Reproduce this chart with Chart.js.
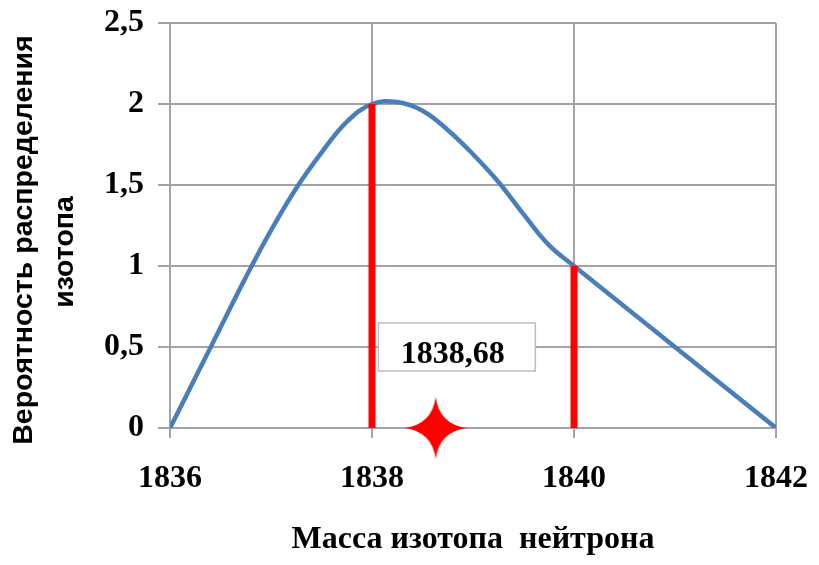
<!DOCTYPE html>
<html>
<head>
<meta charset="utf-8">
<script src="https://cdn.jsdelivr.net/npm/chart.js@4.4.1/dist/chart.umd.min.js"></script>
<style>
  html, body { margin: 0; padding: 0; background: #fff; }
  #wrap { width: 819px; height: 565px; position: relative; }
</style>
</head>
<body>
<div id="wrap"><canvas id="isoChart"></canvas></div>
<script>
// probability curve, every quarter unit
const masses = [1836, 1836.25, 1836.5, 1836.75, 1837, 1837.25, 1837.5, 1837.75, 1838,
                1838.25, 1838.5, 1838.75, 1839, 1839.25, 1839.5, 1839.75, 1840, 1842];
const probs  = [0,    0.31,    0.62,   0.93,    1.22, 1.48,    1.70,   1.89,    2.0,
                2.012,   1.958,  1.84,    1.69, 1.52,    1.32,   1.13,    1,    0];

// red bars at the two isotopes
const markMass = [1838, 1840];
const markProb = [2, 1];

// mean mass: star on the axis + boxed label
const meanMass = [1838.63];
const meanProb = [0];
const meanText = '1838,68';
const notePos = [1838.84, 0.5];

// tick labels and axis titles
const xTicks = [1836, 1838, 1840, 1842];
const yTicks = [0, 0.5, 1, 1.5, 2, 2.5];
const xTitle = 'Масса изотопа  нейтрона';
const yTitle = ['Вероятность распределения', 'изотопа'];

const gridGray = '#a3a3a3';
const serifBold = { family: '"Liberation Serif", "Times New Roman", serif', size: 32, weight: 'bold' };

// 4-point star used as point style
function makeStar(size, color) {
  const c = document.createElement('canvas');
  c.width = size; c.height = size;
  const g = c.getContext('2d');
  const m = size / 2, k = size * 0.06;
  g.fillStyle = color;
  g.beginPath();
  g.moveTo(m, 0);
  g.quadraticCurveTo(m + k, m - k, size, m);
  g.quadraticCurveTo(m + k, m + k, m, size);
  g.quadraticCurveTo(m - k, m + k, 0, m);
  g.quadraticCurveTo(m - k, m - k, m, 0);
  g.fill();
  return c;
}

// boxed value label
const notePlugin = {
  id: 'note',
  afterDatasetsDraw(chart) {
    const { ctx, scales: { x, y } } = chart;
    const cx = x.getPixelForValue(notePos[0]);
    const cy = y.getPixelForValue(notePos[1]);
    const w = 157, h = 48;
    ctx.save();
    ctx.fillStyle = '#fff';
    ctx.strokeStyle = '#bdbdbd';
    ctx.lineWidth = 1.5;
    ctx.fillRect(cx - w / 2, cy - h / 2, w, h);
    ctx.strokeRect(cx - w / 2, cy - h / 2, w, h);
    ctx.fillStyle = '#000';
    ctx.font = 'bold 32px "Liberation Serif"';
    ctx.textAlign = 'center';
    ctx.textBaseline = 'alphabetic';
    ctx.fillText(meanText, cx - 4, cy + 16);
    ctx.restore();
  }
};

// rotated two-line y title (sits a bit below the plot centre, as in the original)
const yTitlePlugin = {
  id: 'yTitle',
  afterDraw(chart) {
    const ctx = chart.ctx;
    ctx.save();
    ctx.fillStyle = '#000';
    ctx.font = 'bold 28.5px "Liberation Sans"';
    ctx.textAlign = 'center';
    ctx.textBaseline = 'alphabetic';
    ctx.translate(31.5, 240);
    ctx.rotate(-Math.PI / 2);
    ctx.fillText(yTitle[0], 0, 0);
    ctx.fillText(yTitle[1], -12, 41);
    ctx.restore();
  }
};

const redBars = markMass.map((m, i) => ({
  data: [{ x: m, y: 0 }, { x: m, y: markProb[i] }],
  showLine: true,
  borderColor: '#ff0000',
  borderWidth: 7,
  pointRadius: 0,
  borderCapStyle: 'butt',
  order: 0
}));

new Chart(document.getElementById('isoChart'), {
  type: 'scatter',
  data: {
    datasets: [
      {
        data: masses.map((m, i) => ({ x: m, y: probs[i] })),
        showLine: true,
        borderColor: '#4a7ebb',
        borderWidth: 4.5,
        tension: 0.4,
        pointRadius: 0,
        order: 1
      },
      ...redBars,
      {
        // image point: drawn at its own size, small radius keeps layout padding untouched
        data: meanMass.map((m, i) => ({ x: m, y: meanProb[i] })),
        pointStyle: makeStar(62, '#ff0000'),
        pointRadius: 1,
        clip: false,
        order: 0
      }
    ]
  },
  options: {
    responsive: true,
    maintainAspectRatio: false,
    animation: false,
    layout: { padding: { left: 0, right: 43, top: 23, bottom: 0 } },
    plugins: { legend: { display: false }, tooltip: { enabled: false } },
    scales: {
      x: {
        type: 'linear',
        min: 1836, max: 1842,
        afterBuildTicks: (s) => { s.ticks = xTicks.map(v => ({ value: v })); },
        afterFit: (s) => { s.height = 137; s.paddingLeft = 0; s.paddingRight = 0; },
        grid: { color: gridGray, lineWidth: 2, tickLength: 10 },
        border: { color: gridGray, width: 2 },
        ticks: { color: '#000', font: serifBold, padding: 22, callback: v => String(v) },
        title: {
          display: true,
          text: xTitle,
          color: '#000',
          font: serifBold,
          padding: { top: 0, bottom: 6 }
        }
      },
      y: {
        min: 0, max: 2.5,
        afterBuildTicks: (s) => { s.ticks = yTicks.map(v => ({ value: v })); },
        afterFit: (s) => { s.width = 170; s.paddingTop = 0; s.paddingBottom = 0; },
        grid: { color: gridGray, lineWidth: 2, tickLength: 12 },
        border: { color: gridGray, width: 2 },
        ticks: {
          color: '#000',
          font: { ...serifBold, lineHeight: 0.5 },
          padding: 14,
          callback: v => String(v).replace('.', ',')
        }
      }
    }
  },
  plugins: [notePlugin, yTitlePlugin]
});
</script>
</body>
</html>
